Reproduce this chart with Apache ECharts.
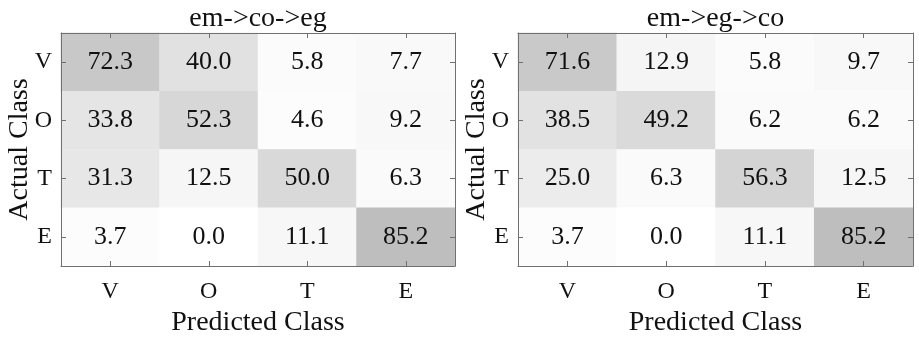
<!DOCTYPE html>
<html><head><meta charset="utf-8">
<script src="https://cdn.jsdelivr.net/npm/echarts@6/dist/echarts.min.js"></script>
<style>html,body{margin:0;padding:0;background:#fff}#c{width:919px;height:337px}</style>
</head><body><div id="c"></div>
<script>
var classes = ['V','O','T','E'];
var titles = ['em->co->eg','em->eg->co'];
var leftMatrix = [
  [72.3, 40.0, 5.8, 7.7],
  [33.8, 52.3, 4.6, 9.2],
  [31.3, 12.5, 50.0, 6.3],
  [3.7, 0.0, 11.1, 85.2]
];
var rightMatrix = [
  [71.6, 12.9, 5.8, 9.7],
  [38.5, 49.2, 6.2, 6.2],
  [25.0, 6.3, 56.3, 12.5],
  [3.7, 0.0, 11.1, 85.2]
];
var font = 'Liberation Serif';
function toData(m){var d=[];for(var r=0;r<4;r++)for(var c=0;c<4;c++)d.push([c,r,m[r][c]]);return d;}
var grids=[{left:61,right:464,top:33,bottom:71,containLabel:false,outerBoundsMode:'none'},
           {left:518,right:6,top:33,bottom:71,containLabel:false,outerBoundsMode:'none'}];
var lineStyle={color:'#707070',width:1};
var tick={show:true,inside:true,alignWithLabel:true,length:5,lineStyle:{color:'#707070',width:1}};
var xAxes=[],yAxes=[],series=[],vms=[];
[leftMatrix,rightMatrix].forEach(function(m,i){
  xAxes.push({type:'category',gridIndex:i,data:classes,position:'bottom',
    axisLine:{lineStyle:lineStyle},axisTick:tick,
    axisLabel:{fontFamily:font,fontSize:24,color:'#111',margin:14},
    name:'Predicted Class',nameLocation:'middle',nameGap:43,nameMoveOverlap:false,
    nameTextStyle:{fontFamily:font,fontSize:28,color:'#111'},
    splitLine:{show:false},z:5});
  xAxes.push({type:'category',gridIndex:i,data:classes,position:'top',
    axisLine:{lineStyle:lineStyle},axisTick:tick,
    axisLabel:{show:false},splitLine:{show:false},z:5});
  yAxes.push({type:'category',gridIndex:i,data:classes,inverse:true,position:'left',
    axisLine:{lineStyle:lineStyle},axisTick:tick,
    axisLabel:{fontFamily:font,fontSize:24,color:'#111',margin:9},
    name:'Actual Class',nameLocation:'middle',nameGap:27,nameRotate:90,nameMoveOverlap:false,
    nameTextStyle:{fontFamily:font,fontSize:28,color:'#111'},
    splitLine:{show:false},z:5});
  yAxes.push({type:'category',gridIndex:i,data:classes,inverse:true,position:'right',
    axisLine:{lineStyle:lineStyle},axisTick:tick,
    axisLabel:{show:false},splitLine:{show:false},z:5});
  series.push({type:'heatmap',xAxisIndex:i*2,yAxisIndex:i*2,data:toData(m),
    label:{show:true,fontFamily:font,fontSize:26,color:'#111',
      formatter:function(p){return '{v|'+p.value[2].toFixed(1)+'}';},
      rich:{v:{fontFamily:font,fontSize:26,color:'#111'}}},
    itemStyle:{borderWidth:0},emphasis:{disabled:true},z:1});
  vms.push({show:false,seriesIndex:i,min:0,max:100,dimension:2,inRange:{color:['#ffffff','#b3b3b3']}});
});
var chart=echarts.init(document.getElementById('c'));
chart.setOption({animation:false,textStyle:{fontFamily:font},
  grid:grids,xAxis:xAxes,yAxis:yAxes,visualMap:vms,series:series,
  graphic:titles.map(function(t,i){return {type:'text',x:(i===0?258:715.5),y:5,
    style:{text:t,font:'28px "Liberation Serif"',fill:'#111',align:'center',verticalAlign:'top'}};})});
</script></body></html>
